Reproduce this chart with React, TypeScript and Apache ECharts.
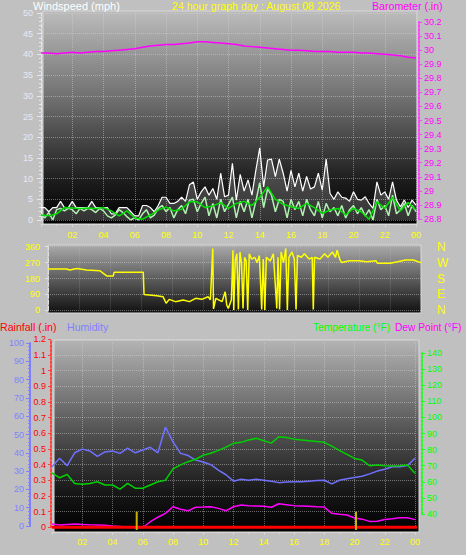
import React, { useEffect, useRef } from 'react';
import * as echarts from 'echarts';

// ---------- data ----------
const hourLabels = ['', '02', '04', '06', '08', '10', '12', '14', '16', '18', '20', '22', '00'];
const compassLabels = ['N', 'E', 'S', 'W', 'N'];

// windspeed (mph), one value every 15 minutes from 00:00 to 24:00
const windGust = [
  3, 3, 2, 3, 3, 4.5, 3, 3, 4.5, 3, 3, 3, 3, 4.5, 3, 3, 3, 3, 1.5, 1.5,
  3, 3, 3, 2, 1, 1, 3.5, 3.5, 3, 2, 3.5, 5.5, 5.5, 4, 4, 4.5, 5.5, 4.5, 8.5, 9.2,
  5, 6.8, 8, 6, 7.6, 5, 11.3, 5.6, 6, 13.7, 4.8, 11, 7, 9.7, 6, 12, 17.4, 8, 14.5, 14.7,
  10.5, 14.7, 11.3, 7, 12, 8, 11.3, 7, 10.5, 7.5, 8, 11.3, 7.2, 14.7, 6.4, 5, 6.8, 5.5, 5.3, 4.5,
  6.8, 5, 4.8, 5.6, 4, 2.8, 9.2, 6, 6.8, 5, 9.2, 4.8, 3.2, 4.8, 3, 4.8, 3.6,
];
const windSpeed = [
  1.5, 0.5, 1.8, 0, 2.5, 2.8, 2.2, 2.8, 2.5, 1.5, 2.8, 2.2, 2.8, 2.5, 1.8, 2.8, 2.2, 1.0, 0.5, 1.2,
  2.5, 1.8, 0.8, 0, 0.6, 0, 1.5, 2.5, 0.5, 1.2, 2.8, 3.5, 2, 3, 0.5, 2.5, 3.5, 1.5, 4.8, 5,
  2, 4, 5.5, 1, 4, 0.5, 5, 2, 3.8, 5.5, 0.5, 4.5, 2, 5, 0.5, 4.5, 9, 3, 7.5, 6,
  2, 5, 4.5, 0.5, 5, 2.5, 4.5, 1, 5, 2.5, 1, 4.5, 0.5, 4, 2, 3, 1, 3.5, 0.5, 2.5,
  3.5, 1.5, 3, 1, 2.5, 0, 5, 2.5, 3.5, 1, 6, 1.5, 2.5, 4, 1, 3.5, 2,
];
// one value every 30 minutes
const windAverage = [
  1.2, 1.0, 1.5, 3.0, 2.9, 2.8, 2.9, 2.8, 3.0, 2.2, 1.0, 2.2, 0.5, 0.2, 1.2, 2.4, 3.1, 2.2, 2.6, 4.4,
  4.4, 3.0, 3.4, 4.2, 2.8, 4.0, 4.5, 3.5, 5.5, 8.0, 5.0, 3.8, 3.2, 2.8, 4.0, 3.0, 1.6, 2.4, 2.8, 1.2,
  2.8, 2.0, 0.2, 4.4, 2.8, 5.5, 2.2, 4.2, 2.4,
];
const barometer = [
  29.98, 29.98, 29.975, 29.98, 29.985, 29.98, 29.985, 29.99, 29.99, 29.995, 30.0, 30.005, 30.01, 30.02, 30.03, 30.035, 30.04, 30.04, 30.045, 30.05,
  30.06, 30.06, 30.055, 30.05, 30.045, 30.04, 30.03, 30.025, 30.02, 30.015, 30.01, 30.005, 30.0, 30.0, 29.995, 29.99, 29.99, 29.99, 29.985, 29.985,
  29.985, 29.98, 29.98, 29.975, 29.97, 29.965, 29.96, 29.95, 29.945,
];

// wind direction (degrees) at irregular times (hours)
const windDirHours = [
  0, 1.2, 1.4, 1.85, 2.5, 3.35, 3.56, 3.8, 4.2, 4.25, 6.13, 6.18, 7.0, 7.4, 7.6, 7.8, 8.2, 8.7, 9.1, 9.5,
  9.9, 10.3, 10.45, 10.6, 10.65, 10.8, 11.2, 11.4, 11.5, 11.6, 11.8, 11.9, 11.95, 12.05, 12.15, 12.25, 12.35, 12.45, 12.55, 12.65,
  12.75, 12.85, 12.95, 13.1, 13.3, 13.45, 13.6, 13.75, 13.85, 13.95, 14.05, 14.3, 14.5, 14.72, 14.8, 14.9, 15.0, 15.15, 15.3, 15.4,
  15.5, 15.7, 15.85, 15.96, 16.05, 16.3, 16.5, 16.8, 17.0, 17.07, 17.15, 17.5, 17.8, 18.0, 18.3, 18.5, 18.6, 18.79, 18.9, 19.4,
  20.0, 20.5, 21.1, 21.2, 22.0, 22.5, 23.0, 23.5, 24,
];
const windDir = [
  234, 234, 228, 236, 228, 224, 209, 194, 194, 215, 215, 90, 83, 77, 40, 62, 49, 58, 49, 68,
  62, 77, 60, 350, 8, 68, 49, 105, 30, 10, 60, 340, 2, 285, 320, 5, 330, 270, 10, 300,
  280, 2, 320, 290, 300, 270, 310, 5, 290, 2, 300, 280, 320, 10, 300, 5, 330, 270, 350, 2,
  300, 330, 290, 5, 310, 300, 320, 290, 300, 5, 300, 290, 320, 300, 330, 300, 340, 285, 270, 281,
  281, 275, 281, 266, 266, 275, 285, 285, 270,
];

// bottom panel, one value every 30 minutes
const temperature = [
  65.6, 62.5, 64.5, 59, 58.5, 59, 60, 58, 58, 55.5, 59, 56, 56, 58, 60, 61, 68, 70.5, 72.5, 74,
  76.5, 77.7, 79.5, 81.5, 83.9, 84.5, 86, 87, 85.5, 84, 88, 87.5, 86.5, 86, 85.5, 85, 84.5, 82.2, 79.5, 77,
  74.5, 73.5, 70, 70.5, 70, 69.8, 70, 70.4, 65.3,
];
const humidity = [
  32.4, 37, 33, 40, 42, 41, 38, 40.5, 41, 39.7, 42.5, 40, 41.5, 43, 40, 54, 46, 39.7, 38.5, 36,
  35, 33.5, 30.5, 28, 24.5, 25.5, 25, 25.5, 25, 24.5, 23.7, 24, 24.2, 24.2, 24.5, 24.8, 25, 23, 25, 25.8,
  26.5, 27.2, 28.5, 30, 31, 32.4, 32.4, 33, 37,
];
const dewPoint = [
  33.8, 33.2, 33.5, 33.8, 33.5, 33.3, 33.2, 33, 32.5, 32.2, 31.8, 31.6, 31.6, 35.2, 38, 40.4, 44.5, 43, 42, 44.2,
  44.3, 44.5, 43.5, 42, 44.5, 45.6, 45.2, 45, 44.8, 44.2, 46.4, 45.8, 45.2, 45, 44.8, 44.5, 44.3, 40.4, 39.8, 39.4,
  37.5, 36.8, 35.4, 35.5, 36.6, 37, 37.6, 37.7, 36.5,
];
const rainfallHours = [0, 24.2];
const rainfall = [0, 0];
const sunMarkHours = [5.6, 20.1];
const sunMarkRange = [-0.017, 0.1];

// ---------- helpers ----------
const pairs = (vals: number[], step: number) => vals.map((v, i) => [i * step, v]);
const zip = (xs: number[], ys: number[]) => xs.map((x, i) => [x, ys[i]]);

const FONT = 'Liberation Sans, Arial, sans-serif';
const xFmt = (v: number) => hourLabels[Math.round(v / 2)] ?? '';

function hiddenX(gridIndex: number) {
  return { type: 'value', gridIndex, min: 0, max: 24, show: false, axisLine: { onZero: false } };
}

function grad(stops: [number, string][]) {
  return new echarts.graphic.LinearGradient(0, 0, 0, 1, stops.map(([offset, color]) => ({ offset, color })));
}

export default function App() {
  const ref = useRef<HTMLDivElement>(null);

  useEffect(() => {
    if (!ref.current) return;
    const chart = echarts.init(ref.current, undefined, { renderer: 'svg' });

    const dotted = { type: 'dotted', color: 'rgba(215,215,215,0.45)', width: 1 };

    const option: any = {
      animation: false,
      backgroundColor: '#c0c0c0',
      textStyle: { fontFamily: FONT },
      grid: [
        { left: 41, top: 13, width: 375, height: 207 },        // 0 wind
        { left: 41, top: 22, width: 375, height: 197 },        // 1 barometer
        { left: 48, top: 246.7, width: 373, height: 63.6 },    // 2 wind dir
        { left: 52, top: 343, width: 363, height: 183 },       // 3 humidity
        { left: 52, top: 339.3, width: 363, height: 188 },     // 4 rainfall
        { left: 52, top: 353, width: 363, height: 161 },       // 5 temperature
      ],
      xAxis: [
        {
          type: 'value', gridIndex: 0, min: 0, max: 24, interval: 2, offset: 4,
          axisLine: { show: true, onZero: false, lineStyle: { color: '#d8d8d8', width: 1 } },
          axisTick: { show: true, length: 3, lineStyle: { color: '#d8d8d8' } },
          minorTick: { show: true, splitNumber: 2, length: 2, lineStyle: { color: '#d8d8d8' } },
          axisLabel: { color: '#ffff00', fontSize: 9, margin: 6, formatter: xFmt },
          splitLine: { show: true, lineStyle: dotted },
        },
        hiddenX(1),
        {
          type: 'value', gridIndex: 2, min: 0, max: 24, interval: 2,
          axisLine: { show: false, onZero: false }, axisTick: { show: false }, axisLabel: { show: false },
          splitLine: { show: true, lineStyle: { type: 'dotted', color: 'rgba(215,215,215,0.25)' } },
        },
        {
          type: 'value', gridIndex: 3, min: 0, max: 24, interval: 2, offset: 6,
          axisLine: { show: true, onZero: false, lineStyle: { color: '#d8d8d8', width: 1 } },
          axisTick: { show: true, length: 3, lineStyle: { color: '#d8d8d8' } },
          minorTick: { show: true, splitNumber: 2, length: 2, lineStyle: { color: '#d8d8d8' } },
          axisLabel: { color: '#ffff00', fontSize: 9, margin: 5, formatter: xFmt },
          splitLine: { show: true, lineStyle: dotted },
        },
        hiddenX(4),
        hiddenX(5),
      ],
      yAxis: [
        {
          type: 'value', gridIndex: 0, min: 0, max: 50, interval: 5, position: 'left',
          axisLine: { show: true, onZero: false, lineStyle: { color: '#e6e6f0', width: 1, type: 'dashed' } },
          axisTick: { show: true, length: 4, lineStyle: { color: '#e6e6f0' } },
          minorTick: { show: true, splitNumber: 5, length: 2, lineStyle: { color: '#e6e6f0' } },
          axisLabel: { color: '#e8e8f8', fontSize: 9, margin: 8 },
          splitLine: { show: true, lineStyle: dotted },
        },
        {
          type: 'value', gridIndex: 1, min: 28.8, max: 30.2, interval: 0.1, position: 'right', offset: 3,
          axisLine: { show: true, onZero: false, lineStyle: { color: '#ff40ff', width: 2, type: 'dotted' } },
          axisTick: { show: true, length: 3, lineStyle: { color: '#ff40ff' } },
          axisLabel: { color: '#ff00ff', fontSize: 9, margin: 5 },
          splitLine: { show: false },
        },
        {
          type: 'value', gridIndex: 2, min: 0, max: 360, interval: 90, position: 'left',
          axisLine: { show: true, onZero: false, lineStyle: { color: '#e0e0e0', width: 1, type: 'dashed' } },
          axisTick: { show: true, length: 3, lineStyle: { color: '#e0e0e0' } },
          axisLabel: { color: '#ffff00', fontSize: 9, margin: 8 },
          splitLine: { show: true, lineStyle: dotted },
        },
        {
          type: 'value', gridIndex: 2, min: 0, max: 360, interval: 90, position: 'right',
          axisLine: { show: false, onZero: false }, axisTick: { show: false },
          axisLabel: { color: '#ffff00', fontSize: 12, margin: 16, formatter: (v: number) => compassLabels[Math.round(v / 90)] },
          splitLine: { show: false },
        },
        {
          type: 'value', gridIndex: 3, min: 0, max: 100, interval: 10, position: 'left', offset: 22,
          axisLine: { show: true, onZero: false, lineStyle: { color: '#8080ff', width: 2 } },
          axisTick: { show: true, length: 4, lineStyle: { color: '#8080ff' } },
          minorTick: { show: true, splitNumber: 5, length: 2, lineStyle: { color: '#8080ff' } },
          axisLabel: { color: '#8080ff', fontSize: 9, margin: 6 },
          splitLine: { show: false },
        },
        {
          type: 'value', gridIndex: 4, min: 0, max: 1.2, interval: 0.1, position: 'left', offset: 1,
          axisLine: { show: true, onZero: false, lineStyle: { color: '#ff4040', width: 2, type: 'dotted' } },
          axisTick: { show: true, length: 3, lineStyle: { color: '#ff4040' } },
          axisLabel: { color: '#ff0000', fontSize: 9, margin: 5 },
          splitLine: { show: true, lineStyle: dotted },
        },
        {
          type: 'value', gridIndex: 5, min: 40, max: 140, interval: 10, position: 'right', offset: 7,
          axisLine: { show: true, onZero: false, lineStyle: { color: '#20ff20', width: 2, type: 'dotted' } },
          axisTick: { show: true, length: 3, lineStyle: { color: '#20ff20' } },
          axisLabel: { color: '#00ff00', fontSize: 9, margin: 5 },
          splitLine: { show: false },
        },
      ],
      graphic: [
        { type: 'rect', z: -10, shape: { x: 43, y: 11, width: 374, height: 213 },
          style: { fill: grad([[0, '#bcbcbc'], [0.45, '#686868'], [0.8, '#1c1c1c'], [1, '#000000']]), stroke: '#d8d8d8', lineWidth: 1 } },
        { type: 'rect', z: -10, shape: { x: 48, y: 245, width: 373, height: 68 },
          style: { fill: grad([[0, '#aaaaaa'], [0.5, '#5c5c5c'], [1, '#101010']]), stroke: '#d8d8d8', lineWidth: 1 } },
        { type: 'rect', z: -10, shape: { x: 54, y: 340, width: 365, height: 192 },
          style: { fill: grad([[0, '#b4b4b4'], [0.45, '#585858'], [0.8, '#161616'], [1, '#000000']]), stroke: '#d8d8d8', lineWidth: 1 } },
        { type: 'text', x: 33, y: 6, style: { text: 'Windspeed (mph)', fill: '#ffffff', font: `11px ${FONT}`, verticalAlign: 'middle' } },
        { type: 'text', x: 172, y: 6, style: { text: '24 hour graph day : August 08 2026', fill: '#ffff00', font: `10.6px ${FONT}`, verticalAlign: 'middle' } },
        { type: 'text', x: 372, y: 6, style: { text: 'Barometer (.in)', fill: '#ff00ff', font: `10.6px ${FONT}`, verticalAlign: 'middle' } },
        { type: 'text', x: 0, y: 327, style: { text: 'Rainfall (.in)', fill: '#ff0000', font: `10.6px ${FONT}`, verticalAlign: 'middle' } },
        { type: 'text', x: 67, y: 327, style: { text: 'Humidity', fill: '#8080ff', font: `10.6px ${FONT}`, verticalAlign: 'middle' } },
        { type: 'text', x: 313, y: 327, style: { text: 'Temperature (°F)', fill: '#00ff00', font: `10.2px ${FONT}`, verticalAlign: 'middle' } },
        { type: 'text', x: 395, y: 327, style: { text: 'Dew Point (°F)', fill: '#ff00ff', font: `10.2px ${FONT}`, verticalAlign: 'middle' } },
      ],
      series: [
        { name: 'Gust', type: 'line', xAxisIndex: 0, yAxisIndex: 0, data: pairs(windGust, 0.25), symbol: 'none',
          lineStyle: { color: '#ffffff', width: 1.2 }, areaStyle: { color: 'rgba(235,235,235,0.3)' }, z: 3 },
        { name: 'Speed', type: 'line', xAxisIndex: 0, yAxisIndex: 0, data: pairs(windSpeed, 0.25), symbol: 'none',
          lineStyle: { color: '#b0f0b0', width: 1.5 }, z: 4 },
        { name: 'Average', type: 'line', xAxisIndex: 0, yAxisIndex: 0, data: pairs(windAverage, 0.5), symbol: 'none',
          lineStyle: { color: '#00e000', width: 1.5 }, z: 5 },
        { name: 'Barometer', type: 'line', xAxisIndex: 1, yAxisIndex: 1, data: pairs(barometer, 0.5), symbol: 'none',
          lineStyle: { color: '#ff00ff', width: 1.5 }, z: 5 },
        { name: 'Direction', type: 'line', xAxisIndex: 2, yAxisIndex: 2, data: zip(windDirHours, windDir), symbol: 'none',
          lineStyle: { color: '#ffff00', width: 1.5 }, clip: false },
        { name: 'Humidity', type: 'line', xAxisIndex: 3, yAxisIndex: 4, data: pairs(humidity, 0.5), symbol: 'none',
          lineStyle: { color: '#7070ff', width: 1.5 } },
        { name: 'Temperature', type: 'line', xAxisIndex: 5, yAxisIndex: 6, data: pairs(temperature, 0.5), symbol: 'none',
          lineStyle: { color: '#00d000', width: 1.5 } },
        { name: 'Dew Point', type: 'line', xAxisIndex: 5, yAxisIndex: 6, data: pairs(dewPoint, 0.5), symbol: 'none',
          lineStyle: { color: '#ff00ff', width: 1.5 }, clip: false },
        { name: 'Rainfall', type: 'line', xAxisIndex: 4, yAxisIndex: 5, data: zip(rainfallHours, rainfall), symbol: 'none',
          lineStyle: { color: '#ff0000', width: 3 }, clip: false, z: 6 },
        ...sunMarkHours.map((h, i) => ({
          name: 'Sun' + i, type: 'line', xAxisIndex: 4, yAxisIndex: 5, symbol: 'none', clip: false, z: 7,
          data: sunMarkRange.map((v) => [h, v]),
          lineStyle: { color: '#c8b400', width: 2 },
        })),
      ],
    };

    chart.setOption(option);
    return () => chart.dispose();
  }, []);

  return (
    <div
      ref={ref}
      style={{ position: 'absolute', left: 0, top: 0, width: 466, height: 555, background: '#c0c0c0' }}
    />
  );
}
